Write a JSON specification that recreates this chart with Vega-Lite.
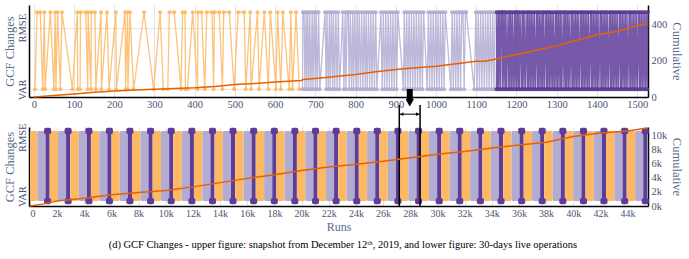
{
"$schema": "https://vega.github.io/schema/vega-lite/v6.json",
"padding": {"left": 2, "top": 5, "right": 2, "bottom": 4},
"background": "white",
"bounds": "flush",
"spacing": 30,
"config": {
  "font": "Liberation Serif",
  "view": {"stroke": null},
  "axis": {"labelFont": "Liberation Serif", "titleFont": "Liberation Serif", "labelColor": "#4a5472", "titleColor": "#5b6a8e", "labelFontSize": 10.5, "titleFontSize": 12.5, "titleFontWeight": "normal", "ticks": false, "domainColor": "black", "domainWidth": 1.5, "gridColor": "#e4e4e4", "labelPadding": 2, "labelOverlap": false}
},
"title": {"text": "(d) GCF Changes -  upper figure: snapshot  from December 12ᵗʰ, 2019, and lower figure: 30-days live operations", "orient": "bottom", "anchor": "middle", "fontSize": 10.5, "font": "Liberation Serif", "fontWeight": "normal", "color": "black", "offset": 8},
"datasets": {
"ev": [
{"r":3,"v":0,"s":"A"},{"r":8,"v":1,"s":"A"},{"r":16,"v":1,"s":"A"},{"r":22,"v":0,"s":"A"},{"r":26,"v":1,"s":"A"},{"r":28,"v":0,"s":"A"},{"r":41,"v":1,"s":"A"},{"r":50,"v":0,"s":"A"},{"r":53,"v":1,"s":"A"},{"r":55,"v":0,"s":"A"},{"r":59,"v":1,"s":"A"},{"r":66,"v":0,"s":"A"},{"r":70,"v":1,"s":"A"},{"r":96,"v":0,"s":"A"},{"r":108,"v":1,"s":"A"},{"r":109,"v":0,"s":"A"},{"r":115,"v":0,"s":"A"},{"r":116,"v":1,"s":"A"},{"r":129,"v":1,"s":"A"},{"r":134,"v":0,"s":"A"},{"r":135,"v":1,"s":"A"},{"r":142,"v":0,"s":"A"},{"r":143,"v":1,"s":"A"},{"r":152,"v":1,"s":"A"},{"r":154,"v":0,"s":"A"},{"r":167,"v":1,"s":"A"},{"r":168,"v":0,"s":"A"},{"r":182,"v":1,"s":"A"},{"r":187,"v":0,"s":"A"},{"r":204,"v":1,"s":"A"},{"r":205,"v":0,"s":"A"},{"r":227,"v":1,"s":"A"},{"r":228,"v":0,"s":"A"},{"r":233,"v":1,"s":"A"},{"r":234,"v":0,"s":"A"},{"r":239,"v":1,"s":"A"},{"r":248,"v":0,"s":"A"},{"r":274,"v":1,"s":"A"},{"r":298,"v":0,"s":"A"},{"r":314,"v":1,"s":"A"},{"r":322,"v":0,"s":"A"},{"r":333,"v":0,"s":"A"},{"r":337,"v":1,"s":"A"},{"r":349,"v":1,"s":"A"},{"r":366,"v":0,"s":"A"},{"r":370,"v":1,"s":"A"},{"r":376,"v":1,"s":"A"},{"r":377,"v":0,"s":"A"},{"r":382,"v":0,"s":"A"},{"r":395,"v":1,"s":"A"},{"r":407,"v":0,"s":"A"},{"r":408,"v":1,"s":"A"},{"r":417,"v":1,"s":"A"},{"r":425,"v":0,"s":"A"},{"r":430,"v":1,"s":"A"},{"r":443,"v":1,"s":"A"},{"r":447,"v":0,"s":"A"},{"r":449,"v":1,"s":"A"},{"r":461,"v":1,"s":"A"},{"r":469,"v":0,"s":"A"},{"r":472,"v":1,"s":"A"},{"r":486,"v":1,"s":"A"},{"r":498,"v":0,"s":"A"},{"r":508,"v":1,"s":"A"},{"r":523,"v":1,"s":"A"},{"r":527,"v":0,"s":"A"},{"r":538,"v":1,"s":"A"},{"r":540,"v":0,"s":"A"},{"r":556,"v":1,"s":"A"},{"r":560,"v":0,"s":"A"},{"r":573,"v":1,"s":"A"},{"r":583,"v":0,"s":"A"},{"r":588,"v":1,"s":"A"},{"r":602,"v":0,"s":"A"},{"r":606,"v":1,"s":"A"},{"r":614,"v":0,"s":"A"},{"r":619,"v":1,"s":"A"},{"r":635,"v":0,"s":"A"},{"r":639,"v":1,"s":"A"},{"r":643,"v":0,"s":"A"},{"r":652,"v":1,"s":"A"},{"r":660,"v":0,"s":"A"},
{"r":668,"v":0,"s":"B"},{"r":669,"v":1,"s":"B"},{"r":672,"v":1,"s":"B"},{"r":674,"v":0,"s":"B"},{"r":677,"v":1,"s":"B"},{"r":679,"v":0,"s":"B"},{"r":681,"v":1,"s":"B"},{"r":684,"v":0,"s":"B"},{"r":686,"v":1,"s":"B"},{"r":689,"v":0,"s":"B"},{"r":692,"v":1,"s":"B"},{"r":694,"v":0,"s":"B"},{"r":697,"v":1,"s":"B"},{"r":700,"v":0,"s":"B"},{"r":702,"v":1,"s":"B"},{"r":705,"v":0,"s":"B"},{"r":708,"v":1,"s":"B"},{"r":711,"v":0,"s":"B"},{"r":724,"v":1,"s":"B"},{"r":727,"v":0,"s":"B"},{"r":729,"v":1,"s":"B"},{"r":732,"v":0,"s":"B"},{"r":735,"v":1,"s":"B"},{"r":737,"v":0,"s":"B"},{"r":740,"v":1,"s":"B"},{"r":743,"v":0,"s":"B"},{"r":745,"v":1,"s":"B"},{"r":748,"v":0,"s":"B"},{"r":751,"v":1,"s":"B"},{"r":754,"v":0,"s":"B"},{"r":757,"v":1,"s":"B"},{"r":760,"v":0,"s":"B"},{"r":768,"v":1,"s":"B"},{"r":771,"v":0,"s":"B"},{"r":774,"v":1,"s":"B"},{"r":776,"v":0,"s":"B"},{"r":779,"v":1,"s":"B"},{"r":782,"v":1,"s":"B"},{"r":784,"v":0,"s":"B"},{"r":787,"v":1,"s":"B"},{"r":790,"v":0,"s":"B"},{"r":793,"v":1,"s":"B"},{"r":795,"v":0,"s":"B"},{"r":798,"v":1,"s":"B"},{"r":801,"v":0,"s":"B"},{"r":804,"v":1,"s":"B"},{"r":806,"v":0,"s":"B"},{"r":809,"v":1,"s":"B"},{"r":812,"v":0,"s":"B"},{"r":815,"v":1,"s":"B"},{"r":818,"v":0,"s":"B"},{"r":821,"v":1,"s":"B"},{"r":824,"v":0,"s":"B"},{"r":826,"v":1,"s":"B"},{"r":829,"v":0,"s":"B"},{"r":832,"v":1,"s":"B"},{"r":835,"v":0,"s":"B"},{"r":838,"v":1,"s":"B"},{"r":841,"v":0,"s":"B"},{"r":844,"v":1,"s":"B"},{"r":847,"v":0,"s":"B"},{"r":850,"v":1,"s":"B"},{"r":853,"v":0,"s":"B"},{"r":863,"v":1,"s":"B"},{"r":866,"v":0,"s":"B"},{"r":869,"v":1,"s":"B"},{"r":872,"v":0,"s":"B"},{"r":875,"v":1,"s":"B"},{"r":878,"v":0,"s":"B"},{"r":881,"v":1,"s":"B"},{"r":884,"v":0,"s":"B"},{"r":887,"v":1,"s":"B"},{"r":890,"v":0,"s":"B"},{"r":893,"v":1,"s":"B"},{"r":896,"v":0,"s":"B"},{"r":899,"v":1,"s":"B"},{"r":902,"v":0,"s":"B"},{"r":905,"v":1,"s":"B"},{"r":919,"v":0,"s":"B"},{"r":921,"v":1,"s":"B"},{"r":924,"v":0,"s":"B"},{"r":927,"v":1,"s":"B"},{"r":930,"v":0,"s":"B"},{"r":933,"v":1,"s":"B"},{"r":936,"v":0,"s":"B"},{"r":939,"v":1,"s":"B"},{"r":942,"v":0,"s":"B"},{"r":945,"v":1,"s":"B"},{"r":948,"v":0,"s":"B"},{"r":951,"v":1,"s":"B"},{"r":954,"v":0,"s":"B"},{"r":957,"v":1,"s":"B"},{"r":960,"v":0,"s":"B"},{"r":963,"v":1,"s":"B"},{"r":966,"v":0,"s":"B"},{"r":969,"v":1,"s":"B"},{"r":978,"v":0,"s":"B"},{"r":981,"v":1,"s":"B"},{"r":984,"v":0,"s":"B"},{"r":987,"v":1,"s":"B"},{"r":990,"v":0,"s":"B"},{"r":993,"v":1,"s":"B"},{"r":996,"v":0,"s":"B"},{"r":999,"v":1,"s":"B"},{"r":1002,"v":0,"s":"B"},{"r":1005,"v":1,"s":"B"},{"r":1008,"v":0,"s":"B"},{"r":1011,"v":1,"s":"B"},{"r":1014,"v":0,"s":"B"},{"r":1017,"v":1,"s":"B"},{"r":1020,"v":0,"s":"B"},{"r":1023,"v":1,"s":"B"},{"r":1037,"v":0,"s":"B"},{"r":1040,"v":1,"s":"B"},{"r":1043,"v":0,"s":"B"},{"r":1046,"v":1,"s":"B"},{"r":1049,"v":0,"s":"B"},{"r":1052,"v":1,"s":"B"},{"r":1055,"v":0,"s":"B"},{"r":1058,"v":1,"s":"B"},{"r":1061,"v":0,"s":"B"},{"r":1064,"v":1,"s":"B"},{"r":1067,"v":1,"s":"B"},{"r":1070,"v":0,"s":"B"},{"r":1073,"v":1,"s":"B"},{"r":1075,"v":1,"s":"B"},{"r":1095,"v":0,"s":"B"},{"r":1099,"v":1,"s":"B"},{"r":1102,"v":0,"s":"B"},{"r":1105,"v":1,"s":"B"},{"r":1108,"v":0,"s":"B"},{"r":1111,"v":1,"s":"B"},{"r":1114,"v":0,"s":"B"},{"r":1117,"v":1,"s":"B"},{"r":1120,"v":0,"s":"B"},{"r":1123,"v":1,"s":"B"},{"r":1126,"v":0,"s":"B"},{"r":1129,"v":1,"s":"B"},{"r":1132,"v":0,"s":"B"},{"r":1135,"v":1,"s":"B"},{"r":1138,"v":0,"s":"B"},{"r":1141,"v":1,"s":"B"},{"r":1144,"v":0,"s":"B"},{"r":1147,"v":1,"s":"B"},
{"r":1150,"v":0,"s":"C"},{"r":1151,"v":1,"s":"C"},{"r":1153,"v":0,"s":"C"},{"r":1155,"v":1,"s":"C"},{"r":1156,"v":0,"s":"C"},{"r":1158,"v":1,"s":"C"},{"r":1160,"v":0,"s":"C"},{"r":1162,"v":1,"s":"C"},{"r":1164,"v":1,"s":"C"},{"r":1165,"v":0,"s":"C"},{"r":1167,"v":1,"s":"C"},{"r":1169,"v":0,"s":"C"},{"r":1171,"v":1,"s":"C"},{"r":1173,"v":0,"s":"C"},{"r":1174,"v":1,"s":"C"},{"r":1176,"v":0,"s":"C"},{"r":1179,"v":1,"s":"C"},{"r":1181,"v":0,"s":"C"},{"r":1183,"v":1,"s":"C"},{"r":1184,"v":0,"s":"C"},{"r":1186,"v":1,"s":"C"},{"r":1188,"v":0,"s":"C"},{"r":1190,"v":1,"s":"C"},{"r":1192,"v":0,"s":"C"},{"r":1195,"v":1,"s":"C"},{"r":1196,"v":0,"s":"C"},{"r":1198,"v":1,"s":"C"},{"r":1200,"v":0,"s":"C"},{"r":1202,"v":1,"s":"C"},{"r":1204,"v":0,"s":"C"},{"r":1205,"v":1,"s":"C"},{"r":1207,"v":0,"s":"C"},{"r":1209,"v":1,"s":"C"},{"r":1212,"v":0,"s":"C"},{"r":1214,"v":1,"s":"C"},{"r":1215,"v":0,"s":"C"},{"r":1217,"v":1,"s":"C"},{"r":1219,"v":0,"s":"C"},{"r":1221,"v":1,"s":"C"},{"r":1223,"v":0,"s":"C"},{"r":1226,"v":1,"s":"C"},{"r":1228,"v":0,"s":"C"},{"r":1229,"v":1,"s":"C"},{"r":1231,"v":0,"s":"C"},{"r":1233,"v":1,"s":"C"},{"r":1235,"v":0,"s":"C"},{"r":1237,"v":1,"s":"C"},{"r":1239,"v":0,"s":"C"},{"r":1241,"v":1,"s":"C"},{"r":1243,"v":0,"s":"C"},{"r":1245,"v":1,"s":"C"},{"r":1247,"v":0,"s":"C"},{"r":1250,"v":1,"s":"C"},{"r":1252,"v":0,"s":"C"},{"r":1253,"v":1,"s":"C"},{"r":1255,"v":0,"s":"C"},{"r":1257,"v":1,"s":"C"},{"r":1259,"v":0,"s":"C"},{"r":1261,"v":1,"s":"C"},{"r":1263,"v":0,"s":"C"},{"r":1265,"v":1,"s":"C"},{"r":1266,"v":0,"s":"C"},{"r":1268,"v":1,"s":"C"},{"r":1270,"v":0,"s":"C"},{"r":1273,"v":1,"s":"C"},{"r":1275,"v":0,"s":"C"},{"r":1276,"v":1,"s":"C"},{"r":1278,"v":0,"s":"C"},{"r":1280,"v":1,"s":"C"},{"r":1282,"v":0,"s":"C"},{"r":1284,"v":1,"s":"C"},{"r":1286,"v":0,"s":"C"},{"r":1288,"v":1,"s":"C"},{"r":1290,"v":0,"s":"C"},{"r":1292,"v":1,"s":"C"},{"r":1294,"v":0,"s":"C"},{"r":1297,"v":1,"s":"C"},{"r":1298,"v":0,"s":"C"},{"r":1300,"v":1,"s":"C"},{"r":1302,"v":0,"s":"C"},{"r":1304,"v":1,"s":"C"},{"r":1306,"v":0,"s":"C"},{"r":1308,"v":1,"s":"C"},{"r":1310,"v":0,"s":"C"},{"r":1311,"v":1,"s":"C"},{"r":1313,"v":0,"s":"C"},{"r":1316,"v":1,"s":"C"},{"r":1318,"v":0,"s":"C"},{"r":1320,"v":1,"s":"C"},{"r":1322,"v":0,"s":"C"},{"r":1323,"v":1,"s":"C"},{"r":1325,"v":0,"s":"C"},{"r":1327,"v":1,"s":"C"},{"r":1329,"v":0,"s":"C"},{"r":1331,"v":1,"s":"C"},{"r":1333,"v":0,"s":"C"},{"r":1336,"v":1,"s":"C"},{"r":1338,"v":0,"s":"C"},{"r":1339,"v":1,"s":"C"},{"r":1341,"v":0,"s":"C"},{"r":1343,"v":1,"s":"C"},{"r":1345,"v":0,"s":"C"},{"r":1347,"v":1,"s":"C"},{"r":1349,"v":0,"s":"C"},{"r":1351,"v":1,"s":"C"},{"r":1353,"v":0,"s":"C"},{"r":1355,"v":1,"s":"C"},{"r":1357,"v":0,"s":"C"},{"r":1360,"v":1,"s":"C"},{"r":1362,"v":0,"s":"C"},{"r":1363,"v":1,"s":"C"},{"r":1365,"v":0,"s":"C"},{"r":1367,"v":1,"s":"C"},{"r":1369,"v":0,"s":"C"},{"r":1371,"v":1,"s":"C"},{"r":1373,"v":0,"s":"C"},{"r":1375,"v":1,"s":"C"},{"r":1377,"v":0,"s":"C"},{"r":1379,"v":1,"s":"C"},{"r":1381,"v":0,"s":"C"},{"r":1384,"v":1,"s":"C"},{"r":1386,"v":0,"s":"C"},{"r":1387,"v":1,"s":"C"},{"r":1389,"v":0,"s":"C"},{"r":1391,"v":1,"s":"C"},{"r":1393,"v":0,"s":"C"},{"r":1395,"v":1,"s":"C"},{"r":1397,"v":0,"s":"C"},{"r":1399,"v":1,"s":"C"},{"r":1401,"v":0,"s":"C"},{"r":1403,"v":1,"s":"C"},{"r":1405,"v":0,"s":"C"},{"r":1408,"v":1,"s":"C"},{"r":1410,"v":0,"s":"C"},{"r":1411,"v":1,"s":"C"},{"r":1413,"v":0,"s":"C"},{"r":1415,"v":1,"s":"C"},{"r":1417,"v":0,"s":"C"},{"r":1419,"v":1,"s":"C"},{"r":1421,"v":0,"s":"C"},{"r":1423,"v":1,"s":"C"},{"r":1425,"v":0,"s":"C"},{"r":1427,"v":1,"s":"C"},{"r":1429,"v":0,"s":"C"},{"r":1432,"v":1,"s":"C"},{"r":1434,"v":0,"s":"C"},{"r":1435,"v":1,"s":"C"},{"r":1437,"v":0,"s":"C"},{"r":1439,"v":1,"s":"C"},{"r":1441,"v":0,"s":"C"},{"r":1443,"v":1,"s":"C"},{"r":1445,"v":0,"s":"C"},{"r":1447,"v":1,"s":"C"},{"r":1449,"v":0,"s":"C"},{"r":1451,"v":1,"s":"C"},{"r":1453,"v":0,"s":"C"},{"r":1456,"v":1,"s":"C"},{"r":1458,"v":0,"s":"C"},{"r":1459,"v":1,"s":"C"},{"r":1461,"v":0,"s":"C"},{"r":1463,"v":1,"s":"C"},{"r":1465,"v":0,"s":"C"},{"r":1467,"v":1,"s":"C"},{"r":1469,"v":0,"s":"C"},{"r":1471,"v":1,"s":"C"},{"r":1473,"v":0,"s":"C"},{"r":1475,"v":1,"s":"C"},{"r":1477,"v":0,"s":"C"},{"r":1480,"v":1,"s":"C"},{"r":1482,"v":0,"s":"C"},{"r":1483,"v":1,"s":"C"},{"r":1485,"v":0,"s":"C"},{"r":1487,"v":1,"s":"C"},{"r":1489,"v":0,"s":"C"},{"r":1491,"v":1,"s":"C"},{"r":1493,"v":0,"s":"C"},{"r":1495,"v":1,"s":"C"},{"r":1497,"v":0,"s":"C"},{"r":1499,"v":1,"s":"C"},{"r":1501,"v":0,"s":"C"},{"r":1504,"v":1,"s":"C"},{"r":1506,"v":0,"s":"C"},{"r":1507,"v":1,"s":"C"},{"r":1509,"v":0,"s":"C"},{"r":1511,"v":1,"s":"C"},{"r":1513,"v":0,"s":"C"},{"r":1515,"v":1,"s":"C"},{"r":1517,"v":0,"s":"C"},{"r":1519,"v":1,"s":"C"},{"r":1521,"v":0,"s":"C"},{"r":1523,"v":1,"s":"C"},{"r":1525,"v":0,"s":"C"},{"r":1527,"v":1,"s":"C"}
],
"cumU": [
{"r":0,"c":0},{"r":50,"c":8},{"r":100,"c":16},{"r":150,"c":26},{"r":200,"c":33},{"r":250,"c":38},{"r":300,"c":42},{"r":350,"c":47},{"r":400,"c":51},{"r":450,"c":58},{"r":500,"c":68},{"r":550,"c":74},{"r":600,"c":82},{"r":665,"c":91},{"r":670,"c":96},{"r":700,"c":102},{"r":750,"c":112},{"r":800,"c":124},{"r":850,"c":138},{"r":900,"c":151},{"r":950,"c":160},{"r":1000,"c":169},{"r":1040,"c":180},{"r":1080,"c":191},{"r":1100,"c":196},{"r":1120,"c":196},{"r":1150,"c":209},{"r":1200,"c":233},{"r":1250,"c":257},{"r":1300,"c":282},{"r":1350,"c":312},{"r":1400,"c":342},{"r":1450,"c":360},{"r":1500,"c":391},{"r":1525,"c":402}
],
"bands": [
{"s":0,"e":550,"g":"A"},{"s":550,"e":1150,"g":"B"},{"s":1150,"e":1450,"g":"C"},
{"s":1444,"e":2060,"g":"A"},{"s":2060,"e":2660,"g":"B"},{"s":2660,"e":2960,"g":"C"},
{"s":2974,"e":3590,"g":"A"},{"s":3590,"e":4190,"g":"B"},{"s":4190,"e":4490,"g":"C"},
{"s":4484,"e":5100,"g":"A"},{"s":5100,"e":5700,"g":"B"},{"s":5700,"e":6000,"g":"C"},
{"s":5994,"e":6610,"g":"A"},{"s":6610,"e":7210,"g":"B"},{"s":7210,"e":7510,"g":"C"},
{"s":7514,"e":8130,"g":"A"},{"s":8130,"e":8730,"g":"B"},{"s":8730,"e":9030,"g":"C"},
{"s":9034,"e":9650,"g":"A"},{"s":9650,"e":10250,"g":"B"},{"s":10250,"e":10550,"g":"C"},
{"s":10554,"e":11170,"g":"A"},{"s":11170,"e":11770,"g":"B"},{"s":11770,"e":12070,"g":"C"},
{"s":12074,"e":12690,"g":"A"},{"s":12690,"e":13290,"g":"B"},{"s":13290,"e":13590,"g":"C"},
{"s":13584,"e":14200,"g":"A"},{"s":14200,"e":14800,"g":"B"},{"s":14800,"e":15100,"g":"C"},
{"s":15104,"e":15720,"g":"A"},{"s":15720,"e":16320,"g":"B"},{"s":16320,"e":16620,"g":"C"},
{"s":16624,"e":17240,"g":"A"},{"s":17240,"e":17840,"g":"B"},{"s":17840,"e":18140,"g":"C"},
{"s":18134,"e":18750,"g":"A"},{"s":18750,"e":19350,"g":"B"},{"s":19350,"e":19650,"g":"C"},
{"s":19654,"e":20270,"g":"A"},{"s":20270,"e":20870,"g":"B"},{"s":20870,"e":21170,"g":"C"},
{"s":21174,"e":21790,"g":"A"},{"s":21790,"e":22390,"g":"B"},{"s":22390,"e":22690,"g":"C"},
{"s":22694,"e":23310,"g":"A"},{"s":23310,"e":23910,"g":"B"},{"s":23910,"e":24210,"g":"C"},
{"s":24204,"e":24820,"g":"A"},{"s":24820,"e":25420,"g":"B"},{"s":25420,"e":25720,"g":"C"},
{"s":25724,"e":26340,"g":"A"},{"s":26340,"e":26940,"g":"B"},{"s":26940,"e":27240,"g":"C"},
{"s":27244,"e":27860,"g":"A"},{"s":27860,"e":28460,"g":"B"},{"s":28460,"e":28760,"g":"C"},
{"s":28764,"e":29380,"g":"A"},{"s":29380,"e":29980,"g":"B"},{"s":29980,"e":30280,"g":"C"},
{"s":30274,"e":30890,"g":"A"},{"s":30890,"e":31490,"g":"B"},{"s":31490,"e":31790,"g":"C"},
{"s":31794,"e":32410,"g":"A"},{"s":32410,"e":33010,"g":"B"},{"s":33010,"e":33310,"g":"C"},
{"s":33314,"e":33930,"g":"A"},{"s":33930,"e":34530,"g":"B"},{"s":34530,"e":34830,"g":"C"},
{"s":34834,"e":35450,"g":"A"},{"s":35450,"e":36050,"g":"B"},{"s":36050,"e":36350,"g":"C"},
{"s":36344,"e":36960,"g":"A"},{"s":36960,"e":37560,"g":"B"},{"s":37560,"e":37860,"g":"C"},
{"s":37864,"e":38480,"g":"A"},{"s":38480,"e":39080,"g":"B"},{"s":39080,"e":39380,"g":"C"},
{"s":39384,"e":40000,"g":"A"},{"s":40000,"e":40600,"g":"B"},{"s":40600,"e":40900,"g":"C"},
{"s":40894,"e":41510,"g":"A"},{"s":41510,"e":42110,"g":"B"},{"s":42110,"e":42410,"g":"C"},
{"s":42414,"e":43030,"g":"A"},{"s":43030,"e":43630,"g":"B"},{"s":43630,"e":43930,"g":"C"},
{"s":43934,"e":44550,"g":"A"},{"s":44550,"e":45150,"g":"B"},{"s":45150,"e":45450,"g":"C"}
],
"cumL": [
{"r":0,"c":0},{"r":1000,"c":300},{"r":2000,"c":700},{"r":4000,"c":1100},{"r":6000,"c":1600},{"r":8000,"c":1900},{"r":10000,"c":2200},{"r":12000,"c":2700},{"r":14000,"c":3300},{"r":16000,"c":3900},{"r":18000,"c":4400},{"r":20000,"c":5000},{"r":22000,"c":5500},{"r":24000,"c":5900},{"r":26000,"c":6300},{"r":28000,"c":6800},{"r":30000,"c":7300},{"r":32000,"c":7700},{"r":34000,"c":8200},{"r":36000,"c":8600},{"r":38000,"c":9000},{"r":40000,"c":9800},{"r":42000,"c":10300},{"r":44000,"c":10600},{"r":45480,"c":11000}
],
"ann": [{"a":27190,"b":28720,"m":27960}]
},
"vconcat": [
{
 "width": 619, "height": 92,
 "layer": [
  {
   "data": {"name": "ev"},
   "encoding": {
    "x": {"field": "r", "type": "quantitative", "scale": {"domain": [-12, 1527], "nice": false, "zero": false}, "axis": {"values": [0,100,200,300,400,500,600,700,800,900,1000,1100,1200,1300,1400,1500], "tickCount": 30, "format": "d", "title": null, "grid": true, "labelOverlap": false}},
    "y": {"field": "v", "type": "quantitative", "scale": {"domain": [-0.099, 1.094], "nice": false, "zero": false}, "axis": {"values": [0, 0.8], "labelExpr": "datum.value < 0.5 ? 'VAR' : 'RMSE'", "labelAngle": -90, "title": "GCF Changes", "grid": true, "titlePadding": 1}},
    "color": {"field": "s", "type": "nominal", "scale": {"domain": ["A","B","C"], "range": ["#fdb863","#b2abd2","#5e3c99"]}, "legend": null}
   },
   "layer": [
    {"mark": {"type": "line", "strokeWidth": 1.3, "opacity": 0.85}},
    {"mark": {"type": "point", "filled": true, "size": 16, "opacity": 0.9}}
   ]
  },
  {
   "data": {"name": "cumU"},
   "mark": {"type": "line", "color": "#e66101", "strokeWidth": 1.5},
   "encoding": {
    "x": {"field": "r", "type": "quantitative"},
    "y": {"field": "c", "type": "quantitative", "scale": {"domain": [0, 505], "nice": false}, "axis": {"orient": "right", "values": [0,200,400], "title": "Cumulative", "grid": false, "titlePadding": 3, "labelPadding": 3}}
   }
  }
 ],
 "resolve": {"scale": {"y": "independent"}}
},
{
 "width": 619, "height": 79,
 "layer": [
  {
   "layer": [
    {
     "data": {"name": "bands"},
     "mark": {"type": "rect", "cornerRadius": 1.5},
     "encoding": {
      "x": {"field": "s", "type": "quantitative", "scale": {"domain": [-70, 45500], "nice": false, "zero": false}, "axis": {"values": [0,2000,4000,6000,8000,10000,12000,14000,16000,18000,20000,22000,24000,26000,28000,30000,32000,34000,36000,38000,40000,42000,44000], "tickCount": 40, "labelExpr": "datum.value == 0 ? '0' : (datum.value / 1000) + 'k'", "title": "Runs", "grid": true, "titlePadding": 3, "titleFontSize": 12, "labelFontSize": 10, "labelOverlap": false}},
      "x2": {"field": "e"},
      "y": {"datum": 0, "type": "quantitative", "scale": {"domain": [-0.071, 1.057], "nice": false, "zero": false}, "axis": {"values": [0.07, 0.91], "labelExpr": "datum.value < 0.5 ? 'VAR' : 'RMSE'", "labelAngle": -90, "title": "GCF Changes", "grid": false, "titlePadding": 1}},
      "y2": {"datum": 1},
      "color": {"field": "g", "type": "nominal", "scale": {"domain": ["A","B","C"], "range": ["#fdb863","#b2abd2","#5e3c99"]}, "legend": null}
     }
    },
    {
     "data": {"name": "bands"},
     "transform": [{"filter": "datum.g == 'C'"}],
     "mark": {"type": "rect", "cornerRadius": 2, "color": "#5e3c99", "xOffset": -1.5, "x2Offset": 1.5},
     "encoding": {"x": {"field": "s", "type": "quantitative"}, "x2": {"field": "e"}, "y": {"datum": 0.955}, "y2": {"datum": 1.045}}
    },
    {
     "data": {"name": "bands"},
     "transform": [{"filter": "datum.g == 'C'"}],
     "mark": {"type": "rect", "cornerRadius": 2, "color": "#5e3c99", "xOffset": -1.5, "x2Offset": 1.5},
     "encoding": {"x": {"field": "s", "type": "quantitative"}, "x2": {"field": "e"}, "y": {"datum": -0.045}, "y2": {"datum": 0.045}}
    },
    {
     "data": {"name": "ann"},
     "mark": {"type": "rule", "color": "black", "strokeWidth": 1.5},
     "encoding": {"x": {"field": "a", "type": "quantitative"}, "y": {"datum": -0.071}, "y2": {"datum": 1.371}}
    },
    {
     "data": {"name": "ann"},
     "mark": {"type": "rule", "color": "black", "strokeWidth": 1.5},
     "encoding": {"x": {"field": "b", "type": "quantitative"}, "y": {"datum": -0.071}, "y2": {"datum": 1.371}}
    },
    {
     "data": {"name": "ann"},
     "mark": {"type": "rule", "color": "black", "strokeWidth": 1},
     "encoding": {"x": {"field": "a", "type": "quantitative"}, "x2": {"field": "b"}, "y": {"datum": 1.24}}
    },
    {
     "data": {"name": "ann"},
     "mark": {"type": "point", "shape": "triangle-left", "filled": true, "color": "black", "size": 14, "opacity": 1, "xOffset": 2.5},
     "encoding": {"x": {"field": "a", "type": "quantitative"}, "y": {"datum": 1.24}}
    },
    {
     "data": {"name": "ann"},
     "mark": {"type": "point", "shape": "triangle-right", "filled": true, "color": "black", "size": 14, "opacity": 1, "xOffset": -2.5},
     "encoding": {"x": {"field": "b", "type": "quantitative"}, "y": {"datum": 1.24}}
    },
    {
     "data": {"name": "ann"},
     "mark": {"type": "rule", "color": "black", "strokeWidth": 6},
     "encoding": {"x": {"field": "m", "type": "quantitative"}, "y": {"datum": 1.6}, "y2": {"datum": 1.43}}
    },
    {
     "data": {"name": "ann"},
     "mark": {"type": "point", "shape": "triangle-down", "filled": true, "color": "black", "size": 70, "opacity": 1},
     "encoding": {"x": {"field": "m", "type": "quantitative"}, "y": {"datum": 1.4}}
    }
   ]
  },
  {
   "data": {"name": "cumL"},
   "mark": {"type": "line", "color": "#e66101", "strokeWidth": 1.5},
   "encoding": {
    "x": {"field": "r", "type": "quantitative", "axis": {"values": [0,2000,4000,6000,8000,10000,12000,14000,16000,18000,20000,22000,24000,26000,28000,30000,32000,34000,36000,38000,40000,42000,44000], "tickCount": 40, "labelExpr": "datum.value == 0 ? '0' : (datum.value / 1000) + 'k'", "title": "Runs", "grid": true, "titlePadding": 3, "titleFontSize": 12, "labelFontSize": 10, "labelOverlap": false}},
    "y": {"field": "c", "type": "quantitative", "scale": {"domain": [0, 11150], "nice": false}, "axis": {"orient": "right", "values": [0,2000,4000,6000,8000,10000], "format": "~s", "title": "Cumulative", "grid": false, "titlePadding": 3, "labelPadding": 3}}
   }
  }
 ],
 "resolve": {"scale": {"y": "independent"}}
}
]
}
